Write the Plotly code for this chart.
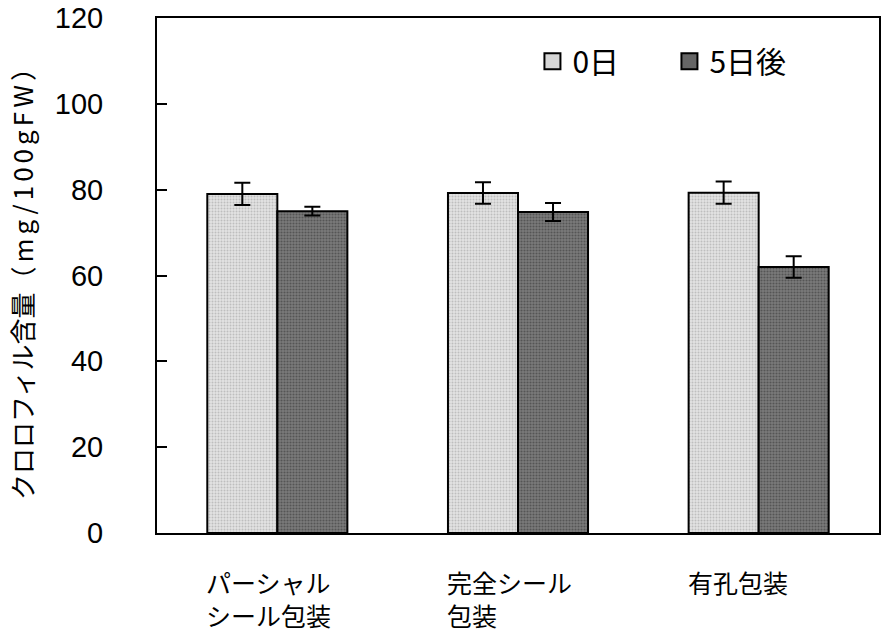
import plotly.graph_objects as go

categories = ["パーシャル<br>シール包装", "完全シール<br>包装", "有孔包装"]
series_names = ["0日", "5日後"]
day0_values = [79.0, 79.2, 79.3]
day0_errors = [2.6, 2.5, 2.6]
day5_values = [75.0, 74.8, 62.0]
day5_errors = [1.0, 2.1, 2.5]
y_ticks = [0, 20, 40, 60, 80, 100, 120]

JP = "Noto Sans CJK JP"
NUM = "Liberation Sans"

styles = [
    dict(color="#d6d6d6", pattern=dict(shape=".", bgcolor="#e2e2e2", fgcolor="#9a9a9a", size=3, solidity=0.35)),
    dict(color="#666666", pattern=dict(shape=".", bgcolor="#7a7a7a", fgcolor="#303030", size=3, solidity=0.4)),
]
values = [day0_values, day5_values]
errors = [day0_errors, day5_errors]

fig = go.Figure()
for name, vals, errs, st in zip(series_names, values, errors, styles):
    fig.add_trace(go.Bar(
        name=name, x=categories, y=vals, legendgroup=name, showlegend=False,
        error_y=dict(type="data", array=errs, color="black", thickness=2, width=8),
        marker=dict(color=st["color"], line=dict(color="black", width=2), pattern=st["pattern"]),
    ))
for name, st in zip(series_names, styles):
    fig.add_trace(go.Scatter(
        name=name, x=[None], y=[None], mode="markers", legendgroup=name, showlegend=True,
        marker=dict(symbol="square", size=16, color=st["color"], line=dict(color="black", width=2)),
    ))

for c in categories:
    fig.add_annotation(
        x=c, xref="x", y=0, yref="paper", text=c, showarrow=False,
        xanchor="left", yanchor="top", align="left", xshift=-73, yshift=-29,
        font=dict(family=JP, size=25, color="black"),
    )

fig.update_layout(
    width=886, height=635,
    margin=dict(l=157, r=7, t=18, b=102, autoexpand=False),
    paper_bgcolor="white", plot_bgcolor="white",
    barmode="group", bargap=0.418, bargroupgap=0,
    font=dict(family=NUM, color="black"),
    showlegend=True,
    legend=dict(
        orientation="h", x=0.52, y=0.916, xanchor="left", yanchor="middle",
        font=dict(family=JP, size=30, color="black"),
        bgcolor="rgba(0,0,0,0)", entrywidth=92, entrywidthmode="pixels",
        itemsizing="trace",
    ),
    xaxis=dict(
        showticklabels=False, ticks="", showline=True, linecolor="black", linewidth=2,
        mirror=True, showgrid=False, zeroline=False,
    ),
    yaxis=dict(
        range=[0, 120], tickvals=y_ticks, ticks="inside", ticklen=10, tickwidth=2,
        tickcolor="black", showline=True, linecolor="black", linewidth=2, mirror=True,
        showgrid=False, zeroline=False, ticklabelstandoff=46, ticklabeloverflow="allow",
        tickfont=dict(family=NUM, size=29, color="black"),
        title=dict(text='クロロフィル含量<span style="letter-spacing:4px">（mg/100gFW）</span>',
                   font=dict(family=JP, size=26, color="black"), standoff=14),
    ),
)

fig.write_html("out.html")
